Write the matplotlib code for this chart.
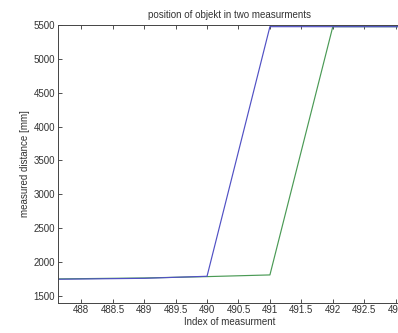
import matplotlib
matplotlib.use("Agg")
import matplotlib.pyplot as plt

plt.rcParams['font.family'] = ['Liberation Sans', 'DejaVu Sans']

# measurement index and the two measured distances
index = [487, 488, 489, 490, 491, 492, 493, 494]
meas_1 = [1740, 1750, 1760, 1790, 5475, 5475, 5475, 5475]
meas_2 = [1745, 1755, 1765, 1785, 1810, 5475, 5475, 5475]

x_ticks = [488, 488.5, 489, 489.5, 490, 490.5, 491, 491.5, 492, 492.5, 493]
x_ticklabels = ['488', '488.5', '489', '489.5', '490', '490.5', '491', '491.5', '492', '492.5', '493']
y_ticks = [1500, 2000, 2500, 3000, 3500, 4000, 4500, 5000, 5500]

fig = plt.figure(figsize=(3.98, 3.33), dpi=100)
ax = fig.add_axes([0.1457, 0.091, 0.8543 + 0.01, 0.834])

ax.plot(index, meas_2, color='#4a9a55', lw=0.85)
ax.plot(index, meas_1, color='#5050c4', lw=0.85)

ax.set_xlim(487.63, 493.1)
ax.set_ylim(1400, 5500)
ax.set_xticks(x_ticks)
ax.set_xticklabels(x_ticklabels)
ax.set_yticks(y_ticks)
ax.tick_params(direction='in', length=3, width=0.6, labelsize=7, colors='#333333',
               top=True, right=True, pad=2)
for s in ax.spines.values():
    s.set_linewidth(0.7)
    s.set_color('#444444')

ax.set_title('position of objekt in two measurments', fontsize=7, color='#333333', pad=5)
ax.set_xlabel('Index of measurment', fontsize=7, color='#333333', labelpad=1)
ax.set_ylabel('measured distance [mm]', fontsize=7, color='#333333', labelpad=3)

fig.savefig('out.png', dpi=100)
